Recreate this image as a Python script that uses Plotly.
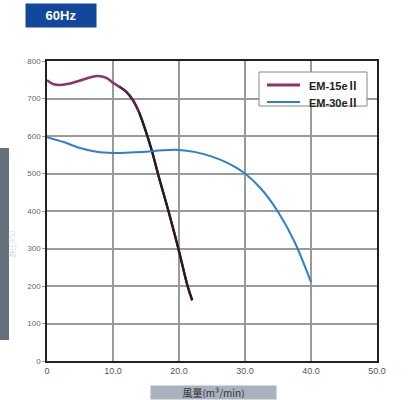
import plotly.graph_objects as go

# EM-15eII (purple -> dark)
x15 = [0, 1, 2, 3.5, 5, 6.5, 7.7, 9, 10, 11, 12, 13, 14, 15, 15.9, 16.8, 17.6, 18.4, 19.9, 21.3, 22.0]
y15 = [749, 738, 736, 740, 748, 756, 760, 755, 742, 731, 718, 696, 661, 611, 560, 500, 450, 400, 300, 200, 162]

# EM-30eII (blue)
x30 = [0, 2.5, 5, 7.5, 10, 12.5, 15, 17.5, 20, 22.5, 25, 27.5, 30, 32.5, 35, 37.5, 40]
y30 = [597, 584, 568, 558, 555, 556, 558, 562, 563, 557, 545, 527, 500, 458, 398, 318, 210]

xticks = [0, 10, 20, 30, 40, 50]
xticklabels = ["0", "10.0", "20.0", "30.0", "40.0", "50.0"]
yticks = [0, 100, 200, 300, 400, 500, 600, 700, 800]

names = ["EM-15e", "EM-30e"]
suffix = "Ⅱ"
colors = ["#8a3370", "#2f7fd0"]

fig = go.Figure()

# full EM-15eII in purple, with darker overlays on the falling part
fig.add_trace(go.Scatter(x=x15, y=y15, mode="lines", name=names[0] + suffix, showlegend=False,
                         line=dict(color=colors[0], width=2.5, shape="spline")))
i1 = x15.index(11)
i2 = x15.index(14)
fig.add_trace(go.Scatter(x=x15[i1:], y=y15[i1:], mode="lines", showlegend=False,
                         line=dict(color="#4a2440", width=2.2, shape="spline")))
fig.add_trace(go.Scatter(x=x15[i2:], y=y15[i2:], mode="lines", showlegend=False,
                         line=dict(color="#1e1e1e", width=1.8, shape="spline")))
fig.add_trace(go.Scatter(x=x30, y=y30, mode="lines", name=names[1] + suffix, showlegend=False,
                         line=dict(color=colors[1], width=2, shape="spline")))

L, T, PW, PH = 47, 61, 330, 300


def px(xp):
    return (xp - L) / PW


def py(yp):
    return (T + PH - yp) / PH


fig.update_layout(
    width=409, height=400,
    margin=dict(l=L, r=409 - L - PW, t=T, b=400 - T - PH),
    paper_bgcolor="white", plot_bgcolor="white",
    font=dict(family="Liberation Sans, Arial, sans-serif", color="#555"),
    showlegend=False,
    xaxis=dict(range=[0, 50], tickvals=xticks, ticktext=xticklabels,
               showgrid=True, gridcolor="#9a9a9a", gridwidth=1.5,
               showline=True, linecolor="#222", linewidth=1.5, mirror=True,
               ticks="", tickfont=dict(size=9, color="#555"), zeroline=False),
    yaxis=dict(range=[0, 800], tickvals=yticks,
               showgrid=True, gridcolor="#9a9a9a", gridwidth=1.5,
               showline=True, linecolor="#222", linewidth=1.5, mirror=True,
               ticks="outside", ticklen=3, tickcolor="#999",
               tickfont=dict(size=8, color="#666"), zeroline=False),
)

# legend box (drawn manually)
fig.add_shape(type="rect", xref="paper", yref="paper",
              x0=px(259), x1=px(367), y0=py(106), y1=py(72),
              fillcolor="white", line=dict(color="#888", width=1), layer="above")
for k, (nm, col) in enumerate(zip(names, colors)):
    yl = 85 + 17 * k
    fig.add_shape(type="line", xref="paper", yref="paper",
                  x0=px(267), x1=px(300), y0=py(yl), y1=py(yl),
                  line=dict(color=col, width=3 if k == 0 else 2), layer="above")
    fig.add_annotation(xref="paper", yref="paper", x=px(307), y=py(yl),
                       xanchor="left", yanchor="middle",
                       text="<b>" + nm + "</b><span style='font-family:Noto Sans CJK JP'><b>" + suffix + "</b></span>",
                       showarrow=False,
                       font=dict(size=11, color="#222", family="Liberation Sans, Arial, sans-serif"))

# 60Hz title box
fig.add_annotation(xref="paper", yref="paper", x=px(25), y=py(28), xanchor="left", yanchor="bottom",
                   text="<b>60Hz</b>", showarrow=False, bgcolor="#13479b",
                   font=dict(color="white", size=13, family="Liberation Sans, Arial, sans-serif"),
                   borderpad=3, width=64, height=17)

# x-axis title box
fig.add_annotation(xref="paper", yref="paper", x=px(213), y=py(385),
                   xanchor="center", yanchor="top",
                   text="風量(m³/min)", showarrow=False, bgcolor="#aab1bf",
                   font=dict(color="#333", size=10, family="Noto Sans CJK JP"),
                   width=123, height=11, borderpad=1)

# y-axis title box
fig.add_shape(type="rect", xref="paper", yref="paper",
              x0=px(0), x1=px(9), y0=py(340), y1=py(148),
              fillcolor="#66707d", line=dict(width=0), layer="above")
fig.add_annotation(xref="paper", yref="paper", x=px(4.5), y=py(244),
                   text="静圧(Pa)", textangle=-90, showarrow=False,
                   font=dict(color="#d8dce2", size=7, family="Noto Sans CJK JP"))

fig.write_html("out.html", config={"displayModeBar": False},
               post_script="document.body.style.margin='0';")
